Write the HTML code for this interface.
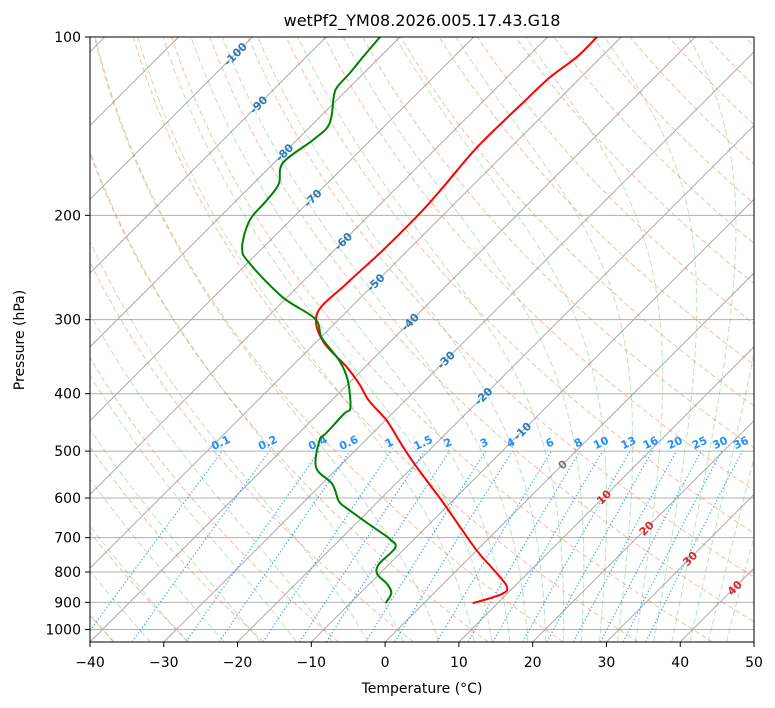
<!DOCTYPE html>
<html><head><meta charset="utf-8"><style>
html,body{margin:0;padding:0;background:#fff;}
svg{display:block;font-family:"DejaVu Sans","Liberation Sans",sans-serif;}
</style></head><body>
<svg id="chart" width="775" height="708" viewBox="0 0 775 708" xmlns="http://www.w3.org/2000/svg">
<defs><clipPath id="plotclip"><rect x="90" y="37" width="664" height="605"/></clipPath></defs>
<rect x="0" y="0" width="775" height="708" fill="#fff"/>
<text x="422" y="26" text-anchor="middle" font-size="16" fill="#000">wetPf2_YM08.2026.005.17.43.G18</text>
<g id="grid" clip-path="url(#plotclip)"></g>
<g id="labels" clip-path="url(#plotclip)"></g>
<g id="traces" clip-path="url(#plotclip)"></g>
<rect x="90" y="37" width="664" height="605" fill="none" stroke="#000" stroke-width="1"/>
<g id="axes"></g>
<text x="422" y="693" text-anchor="middle" font-size="14">Temperature (°C)</text>
<text x="24" y="340" text-anchor="middle" font-size="14" transform="rotate(-90 24 340)">Pressure (hPa)</text>
</svg>
<script>
const tempP=[903,872,845,788,732,607,577,519,480,444,411,385,361,325,292,261,229,198,179,153,129,117,108,100];
const tempT=[6.6,9.3,8.9,4.5,-0.3,-11.4,-14.5,-20.9,-25.4,-29.8,-34.9,-38.5,-42.4,-49.4,-53.8,-53.8,-53.4,-53.4,-53.8,-54.6,-54.4,-54.2,-53.3,-53.3];
const dewP=[903,868,838,806,775,728,703,664,623,607,568,533,480,466,432,422,380,352,322,299,275,241,227,204,189,177,163,149,140,126,121.5,115,108,100];
const dewT=[-5.2,-5.8,-7.6,-10.3,-11.4,-11.4,-13.4,-18.2,-23.5,-25.4,-28.6,-33,-36.2,-36.3,-36.5,-36.5,-40.5,-44.3,-49.8,-53.3,-60.6,-69.7,-72.8,-75.5,-75.9,-76.5,-78.8,-77.8,-77.8,-80.9,-81.7,-81.9,-82.3,-82.7];
const pTicks=[100,200,300,400,500,600,700,800,900,1000];
const tTicks=[-40,-30,-20,-10,0,10,20,30,40,50];
const mixRatios=[0.1,0.2,0.4,0.6,1,1.5,2,3,4,6,8,10,13,16,20,25,30,36];
const isoLabels=[-100,-90,-80,-70,-60,-50,-40,-30,-20,-10,0,10,20,30,40];
const dryTheta=[-50,-40,-30,-20,-10,0,10,20,30,40,50,60,70,80,90,100,110,120,130,140,150,160,170,180,190];
const moistT0=[-50,-45,-40,-35,-30,-25,-20,-15,-10,-5,0,5,10,12.5,15,17.5,20,22.5,25,27.5,30,32.5,35,37.5,40,42.5,45];

const NS="http://www.w3.org/2000/svg";
const K=605/Math.log(10.5);
function yP(p){return 37+K*Math.log(p/100);}
function xT(t,p){return 90+(t+40)*664/90+(642-yP(p));}
function mk(tag,attrs,parent){const e=document.createElementNS(NS,tag);for(const k in attrs)e.setAttribute(k,attrs[k]);parent.appendChild(e);return e;}
function pathD(pts){return pts.map((q,i)=>(i?'L':'M')+q[0].toFixed(1)+','+q[1].toFixed(1)).join('');}
function smoothD(pts){let d='M'+pts[0][0].toFixed(1)+','+pts[0][1].toFixed(1);
for(let i=0;i<pts.length-1;i++){const p0=pts[Math.max(0,i-1)],p1=pts[i],p2=pts[i+1],p3=pts[Math.min(pts.length-1,i+2)];
const c1=[p1[0]+(p2[0]-p0[0])/6,p1[1]+(p2[1]-p0[1])/6],c2=[p2[0]-(p3[0]-p1[0])/6,p2[1]-(p3[1]-p1[1])/6];
d+='C'+c1[0].toFixed(1)+','+c1[1].toFixed(1)+' '+c2[0].toFixed(1)+','+c2[1].toFixed(1)+' '+p2[0].toFixed(1)+','+p2[1].toFixed(1);}
return d;}
const grid=document.getElementById('grid'),labels=document.getElementById('labels'),traces=document.getElementById('traces'),axes=document.getElementById('axes');

pTicks.forEach(p=>{const l=mk('line',{x1:90,x2:754,y1:yP(p),y2:yP(p),stroke:'#b0b0b0','stroke-width':1},grid);

});
for(let t=-170;t<=50;t+=10){const l=mk('line',{x1:xT(t,1050),y1:yP(1050),x2:xT(t,100),y2:yP(100),stroke:'#aaaaaa','stroke-width':1},grid);

}
const pLev=[];for(let p=1050;p>=100;p-=10)pLev.push(p);
dryTheta.forEach(th=>{const pts=pLev.map(p=>[xT((th+273.15)*Math.pow(p/1000,0.2857)-273.15,p),yP(p)]);
const e=mk('path',{d:pathD(pts),fill:'none',stroke:'#f47a55','stroke-opacity':0.5,'stroke-width':1,'stroke-dasharray':'5,3'},grid);

});
function rs(T,p){const es=6.112*Math.exp(17.67*(T-273.15)/(T-29.65));return 0.622*es/(p-es);}
function dTdp(T,p){const Rd=287.04,Lv=2.501e6,Cp=1005.7,r=rs(T,p);return (Rd*T+Lv*r)/p/(Cp+Lv*Lv*r*0.622/(Rd*T*T));}
moistT0.forEach(t0=>{let T=t0+273.15,p=1000;const up=[[xT(t0,p),yP(p)]];
while(p>100){const h=-5;const k1=dTdp(T,p),k2=dTdp(T+h*k1,p+h);T+=h*(k1+k2)/2;p+=h;up.push([xT(T-273.15,p),yP(p)]);}
T=t0+273.15;p=1000;const dn=[];while(p<1050){const h=5;const k1=dTdp(T,p),k2=dTdp(T+h*k1,p+h);T+=h*(k1+k2)/2;p+=h;dn.push([xT(T-273.15,p),yP(p)]);}
const pts=dn.reverse().concat(up);
const e=mk('path',{d:pathD(pts),fill:'none',stroke:'#2ca02c','stroke-opacity':0.3,'stroke-width':1,'stroke-dasharray':'6,3'},grid);

});
function tdFromW(w,p){const e=w*p/(622+w);const a=Math.log(e/6.112);return 243.5*a/(17.67-a);}
mixRatios.forEach(w=>{const pts=[];for(let p=1050;p>=500;p-=10)pts.push([xT(tdFromW(w,p),p),yP(p)]);
const e=mk('path',{d:pathD(pts),fill:'none',stroke:'#1e90ff','stroke-opacity':0.9,'stroke-width':1.2,'stroke-dasharray':'1.2,2.3'},grid);


const x=xT(tdFromW(w,500),500),y=yP(500)-5;
const t=mk('text',{x:x,y:y,'text-anchor':'middle','font-size':11,'font-weight':'bold',fill:'#1e90ff',transform:'rotate(-25 '+x+' '+y+')'},labels);
t.textContent=String(w);

});
isoLabels.forEach(tc=>{const p=1000*Math.pow((tc+273.15)/328,1/0.2857);const x=xT(tc,p),y=yP(p);
const col=tc<0?'#2a7ab8':(tc>0?'#d62728':'#777777');
const t=mk('text',{x:x,y:y+4,'text-anchor':'middle','font-size':11,'font-weight':'bold',fill:col,transform:'rotate(-45 '+x+' '+y+')'},labels);
t.textContent=String(tc);

});
function trace(P,T,col,name){const pts=P.map((p,i)=>[xT(T[i],p),yP(p)]);
const e=mk('path',{d:smoothD(pts),fill:'none',stroke:col,'stroke-width':2,'stroke-linejoin':'round'},traces);

}
trace(tempP,tempT,'#ff0000','temperature-line');
trace(dewP,dewT,'#008000','dewpoint-line');
pTicks.forEach(p=>{const y=yP(p);mk('line',{x1:85,x2:90,y1:y,y2:y,stroke:'#000'},axes);
const t=mk('text',{x:81,y:y+5,'text-anchor':'end','font-size':14},axes);t.textContent=p;

});
tTicks.forEach(tc=>{const x=90+(tc+40)*664/90;mk('line',{x1:x,x2:x,y1:642,y2:647,stroke:'#000'},axes);
const t=mk('text',{x:x,y:667,'text-anchor':'middle','font-size':14},axes);t.textContent=tc<0?'\u2212'+(-tc):String(tc);

});
</script>
</body></html>
